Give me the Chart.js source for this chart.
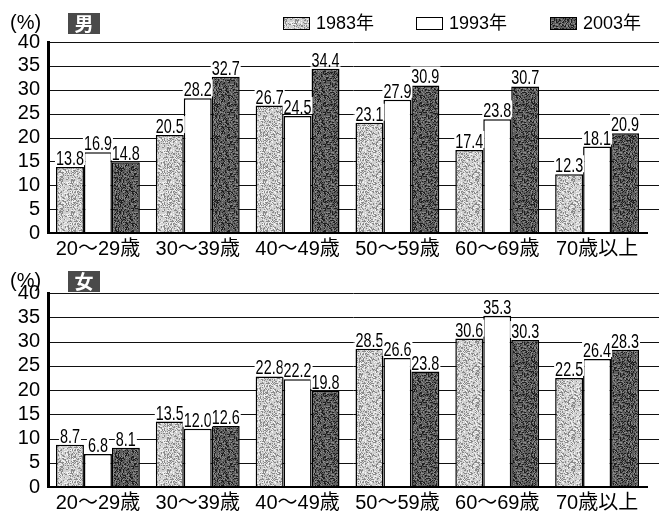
<!DOCTYPE html>
<html><head><meta charset="utf-8">
<script src="https://cdn.jsdelivr.net/npm/chart.js@4"></script>
<style>
html,body{margin:0;padding:0;background:#fff;}
#wrap{position:relative;width:659px;height:513px;}
canvas{position:absolute;left:0;}
</style></head><body>
<div id="wrap">
<canvas id="male" width="659" height="266" style="top:0"></canvas>
<canvas id="female" width="659" height="255" style="top:258px"></canvas>
</div>
<script>
const ageGroups = ['20〜29歳', '30〜39歳', '40〜49歳', '50〜59歳', '60〜69歳', '70歳以上'];
const years = ['1983年', '1993年', '2003年'];
const male1983 = [13.8, 20.5, 26.7, 23.1, 17.4, 12.3];
const male1993 = [16.9, 28.2, 24.5, 27.9, 23.8, 18.1];
const male2003 = [14.8, 32.7, 34.4, 30.9, 30.7, 20.9];
const female1983 = [8.7, 13.5, 22.8, 28.5, 30.6, 22.5];
const female1993 = [6.8, 12.0, 22.2, 26.6, 35.3, 26.4];
const female2003 = [8.1, 12.6, 19.8, 23.8, 30.3, 28.3];
const yTicks = [0, 5, 10, 15, 20, 25, 30, 35, 40];

const AXIS_FONT = '"Liberation Sans", "Noto Sans CJK JP", sans-serif';

// grainy fill like the printed screen tones (fixed LCG so it is the same every run)
function stipple(base, dots, light, seed) {
  const n = 32;
  const c = document.createElement('canvas');
  c.width = n; c.height = n;
  const g = c.getContext('2d');
  g.fillStyle = base;
  g.fillRect(0, 0, n, n);
  let s = seed;
  for (let y = 0; y < n; y++) {
    for (let x = 0; x < n; x++) {
      s = (s * 1103515245 + 12345) % 2147483648;
      const r = s / 2147483648;
      if (r < 0.28) { g.fillStyle = dots; g.fillRect(x, y, 1, 1); }
      else if (r > 0.8) { g.fillStyle = light; g.fillRect(x, y, 1, 1); }
    }
  }
  return g.createPattern(c, 'repeat');
}
const fills = [stipple('#d0d0d0', '#8a8a8a', '#f2f2f2', 7), '#ffffff', stipple('#5e5e5e', '#1e1e1e', '#8a8a8a', 13)];

const gridPlugin = {
  id: 'gridLines',
  beforeDatasetsDraw(chart) {
    const {ctx, chartArea, scales} = chart;
    ctx.save();
    ctx.strokeStyle = '#111';
    ctx.lineWidth = 1;
    yTicks.forEach(v => {
      if (v === 0) return;
      const y = Math.round(scales.y.getPixelForValue(v)) + 0.5;
      ctx.beginPath();
      ctx.moveTo(chartArea.left, y);
      ctx.lineTo(chart.width, y);
      ctx.stroke();
    });
    ctx.restore();
  }
};

const valuePlugin = {
  id: 'values',
  afterDatasetsDraw(chart) {
    const ctx = chart.ctx;
    const sx = 0.72; // condensed look of the printed labels
    chart.data.datasets.forEach((ds, i) => {
      chart.getDatasetMeta(i).data.forEach((bar, j) => {
        const txt = ds.data[j].toFixed(1);
        ctx.save();
        ctx.font = '20px "Liberation Sans", sans-serif';
        const w = ctx.measureText(txt).width * sx;
        ctx.fillStyle = '#fff';
        ctx.fillRect(bar.x - w / 2 - 1, bar.y - 19, w + 2, 17);
        ctx.translate(bar.x, bar.y - 2);
        ctx.scale(sx, 1);
        ctx.textAlign = 'center';
        ctx.textBaseline = 'alphabetic';
        ctx.fillStyle = '#000';
        ctx.fillText(txt, 0, 0);
        ctx.restore();
      });
    });
  }
};

const headerPlugin = {
  id: 'header',
  afterDraw(chart) {
    const o = chart.options.plugins.header;
    const ctx = chart.ctx;
    ctx.save();
    ctx.fillStyle = '#000';
    ctx.font = '20px ' + AXIS_FONT;
    ctx.textBaseline = 'middle';
    ctx.textAlign = 'left';
    ctx.fillText('(%)', 10, o.y);
    ctx.fillStyle = '#4a4a4a';
    ctx.fillRect(68, o.y - 10, 32, 21);
    ctx.fillStyle = '#fff';
    ctx.font = 'bold 19px "Noto Sans CJK JP", sans-serif';
    ctx.textAlign = 'center';
    ctx.fillText(o.title, 84, o.y + 1);
    if (o.legend) {
      ctx.font = '18px ' + AXIS_FONT;
      ctx.textAlign = 'left';
      const starts = [283, 416, 550];
      chart.data.datasets.forEach((ds, i) => {
        const x = starts[i];
        ctx.fillStyle = ds.backgroundColor;
        ctx.fillRect(x, o.y - 6, 27, 13);
        ctx.strokeStyle = '#000';
        ctx.lineWidth = 1;
        ctx.strokeRect(x + 0.5, o.y - 5.5, 26, 12);
        ctx.fillStyle = '#000';
        ctx.fillText(ds.label, x + 33, o.y + 1);
      });
    }
    ctx.restore();
  }
};

function makeChart(id, series, opts) {
  new Chart(document.getElementById(id), {
    type: 'bar',
    data: {
      labels: ageGroups,
      datasets: series.map((data, i) => ({
        label: years[i],
        data: data,
        backgroundColor: fills[i],
        borderColor: '#000',
        borderWidth: 1.5,
        categoryPercentage: 0.84,
        barPercentage: 1.0
      }))
    },
    options: {
      responsive: false,
      animation: false,
      layout: {padding: {top: opts.top, right: 12, left: 0, bottom: 0}},
      plugins: {
        legend: {display: false},
        tooltip: {enabled: false},
        header: {title: opts.title, y: opts.headerY, legend: opts.legend}
      },
      scales: {
        x: {
          grid: {display: false, drawTicks: false},
          border: {display: true, color: '#000', width: 2, z: 1},
          ticks: {color: '#000', font: {size: 20, family: AXIS_FONT}, padding: 4, maxRotation: 0, autoSkip: false},
          afterFit: s => { s.height = opts.xHeight; }
        },
        y: {
          min: 0, max: 40,
          grid: {display: false, drawTicks: false},
          border: {display: true, color: '#000', width: 3, z: 1},
          ticks: {stepSize: 5, autoSkip: false, color: '#000', font: {size: 20, family: AXIS_FONT}, padding: 8},
          afterFit: s => { s.width = 48; }
        }
      }
    },
    plugins: [gridPlugin, valuePlugin, headerPlugin]
  });
}

makeChart('male', [male1983, male1993, male2003], {top: 42, xHeight: 33, title: '男', headerY: 23, legend: true});
makeChart('female', [female1983, female1993, female2003], {top: 35, xHeight: 26, title: '女', headerY: 23, legend: false});
</script>
</body></html>
